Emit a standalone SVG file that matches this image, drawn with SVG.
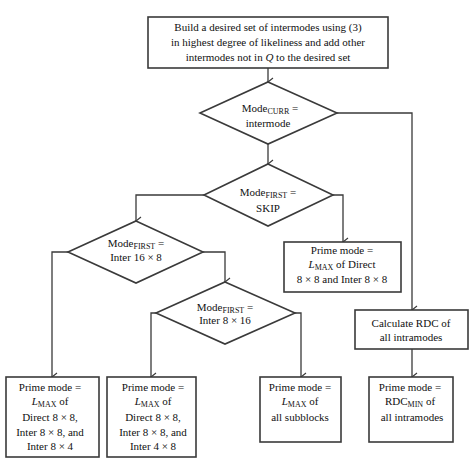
<svg xmlns="http://www.w3.org/2000/svg" width="474" height="474" viewBox="0 0 474 474">
<defs>
<style>
.box{fill:#fff;stroke:#3a3a3a;stroke-width:1.6}
.ln{fill:none;stroke:#3a3a3a;stroke-width:1.3;marker-end:url(#ah)}
text{font-family:"Liberation Serif","Times New Roman",serif;font-size:11px;fill:#111;text-anchor:middle}
.sub{font-size:8px}
</style>
<marker id="ah" markerWidth="10" markerHeight="10" refX="5" refY="8" orient="auto" markerUnits="userSpaceOnUse" viewBox="0 0 10 10">
<path d="M1,3 L5,8 L9,3" fill="none" stroke="#3a3a3a" stroke-width="1.2"/>
</marker>
</defs>
<rect width="474" height="474" fill="#fff"/>
<g id="connectors">
<path class="ln" d="M268,68 V82"/>
<path class="ln" d="M268,144 V164"/>
<path class="ln" d="M337,113 H412 V310"/>
<path class="ln" d="M333,195 H343 V242"/>
<path class="ln" d="M204,195 H136 V221"/>
<path class="ln" d="M68,252 H52 V377"/>
<path class="ln" d="M203,252 H225 V282"/>
<path class="ln" d="M156,313 H151 V377"/>
<path class="ln" d="M295,313 H301 V377"/>
<path class="ln" d="M412,349 V377"/>
</g>
<g id="start">
<rect class="box" x="148" y="17" width="240" height="51"/>
<text x="268" y="31">Build a desired set of intermodes using (3)</text>
<text x="268" y="46">in highest degree of likeliness and add other</text>
<text x="268" y="61">intermodes not in <tspan font-style="italic">Q</tspan> to the desired set</text>
</g>
<g id="d1">
<polygon class="box" points="268,82 337,113 268,144 200,113"/>
<text x="270" y="112">Mode<tspan class="sub" dy="2">CURR</tspan><tspan dy="-2">  =</tspan></text>
<text x="268" y="127">intermode</text>
</g>
<g id="d2">
<polygon class="box" points="268,164 333,195 268,226 204,195"/>
<text x="268" y="196">Mode<tspan class="sub" dy="2">FIRST</tspan><tspan dy="-2"> =</tspan></text>
<text x="268" y="212">SKIP</text>
</g>
<g id="d3">
<polygon class="box" points="136,221 203,252 136,283 68,252"/>
<text x="136" y="247">Mode<tspan class="sub" dy="2">FIRST</tspan><tspan dy="-2"> =</tspan></text>
<text x="136" y="261">Inter 16 × 8</text>
</g>
<g id="d4">
<polygon class="box" points="225,282 295,313 225,344 156,313"/>
<text x="225" y="311">Mode<tspan class="sub" dy="2">FIRST</tspan><tspan dy="-2"> =</tspan></text>
<text x="225" y="324">Inter 8 × 16</text>
</g>
<g id="p1">
<rect class="box" x="284" y="242" width="117" height="50"/>
<text x="342" y="254">Prime mode =</text>
<text x="342" y="268"><tspan font-style="italic">L</tspan><tspan class="sub" dy="2">MAX</tspan><tspan dy="-2"> of Direct</tspan></text>
<text x="342" y="283">8 × 8 and Inter 8 × 8</text>
</g>
<g id="calc">
<rect class="box" x="355" y="310" width="113" height="39"/>
<text x="411" y="327">Calculate RDC of</text>
<text x="411" y="341">all intramodes</text>
</g>
<g id="b1">
<rect class="box" x="6" y="377" width="93" height="80"/>
<text x="50" y="391">Prime mode =</text>
<text x="50" y="405"><tspan font-style="italic">L</tspan><tspan class="sub" dy="2">MAX</tspan><tspan dy="-2"> of</tspan></text>
<text x="50" y="421">Direct 8 × 8,</text>
<text x="50" y="436">Inter 8 × 8, and</text>
<text x="50" y="450">Inter 8 × 4</text>
</g>
<g id="b2">
<rect class="box" x="107" y="377" width="89" height="80"/>
<text x="153" y="391">Prime mode =</text>
<text x="153" y="405"><tspan font-style="italic">L</tspan><tspan class="sub" dy="2">MAX</tspan><tspan dy="-2"> of</tspan></text>
<text x="153" y="421">Direct 8 × 8,</text>
<text x="153" y="436">Inter 8 × 8, and</text>
<text x="153" y="450">Inter 4 × 8</text>
</g>
<g id="b3">
<rect class="box" x="260" y="377" width="81" height="65"/>
<text x="300" y="391">Prime mode =</text>
<text x="300" y="405"><tspan font-style="italic">L</tspan><tspan class="sub" dy="2">MAX</tspan><tspan dy="-2"> of</tspan></text>
<text x="300" y="421">all subblocks</text>
</g>
<g id="b5">
<rect class="box" x="369" y="377" width="84" height="65"/>
<text x="410" y="391">Prime mode =</text>
<text x="410" y="405">RDC<tspan class="sub" dy="2">MIN</tspan><tspan dy="-2"> of</tspan></text>
<text x="412" y="421">all intramodes</text>
</g>
</svg>
